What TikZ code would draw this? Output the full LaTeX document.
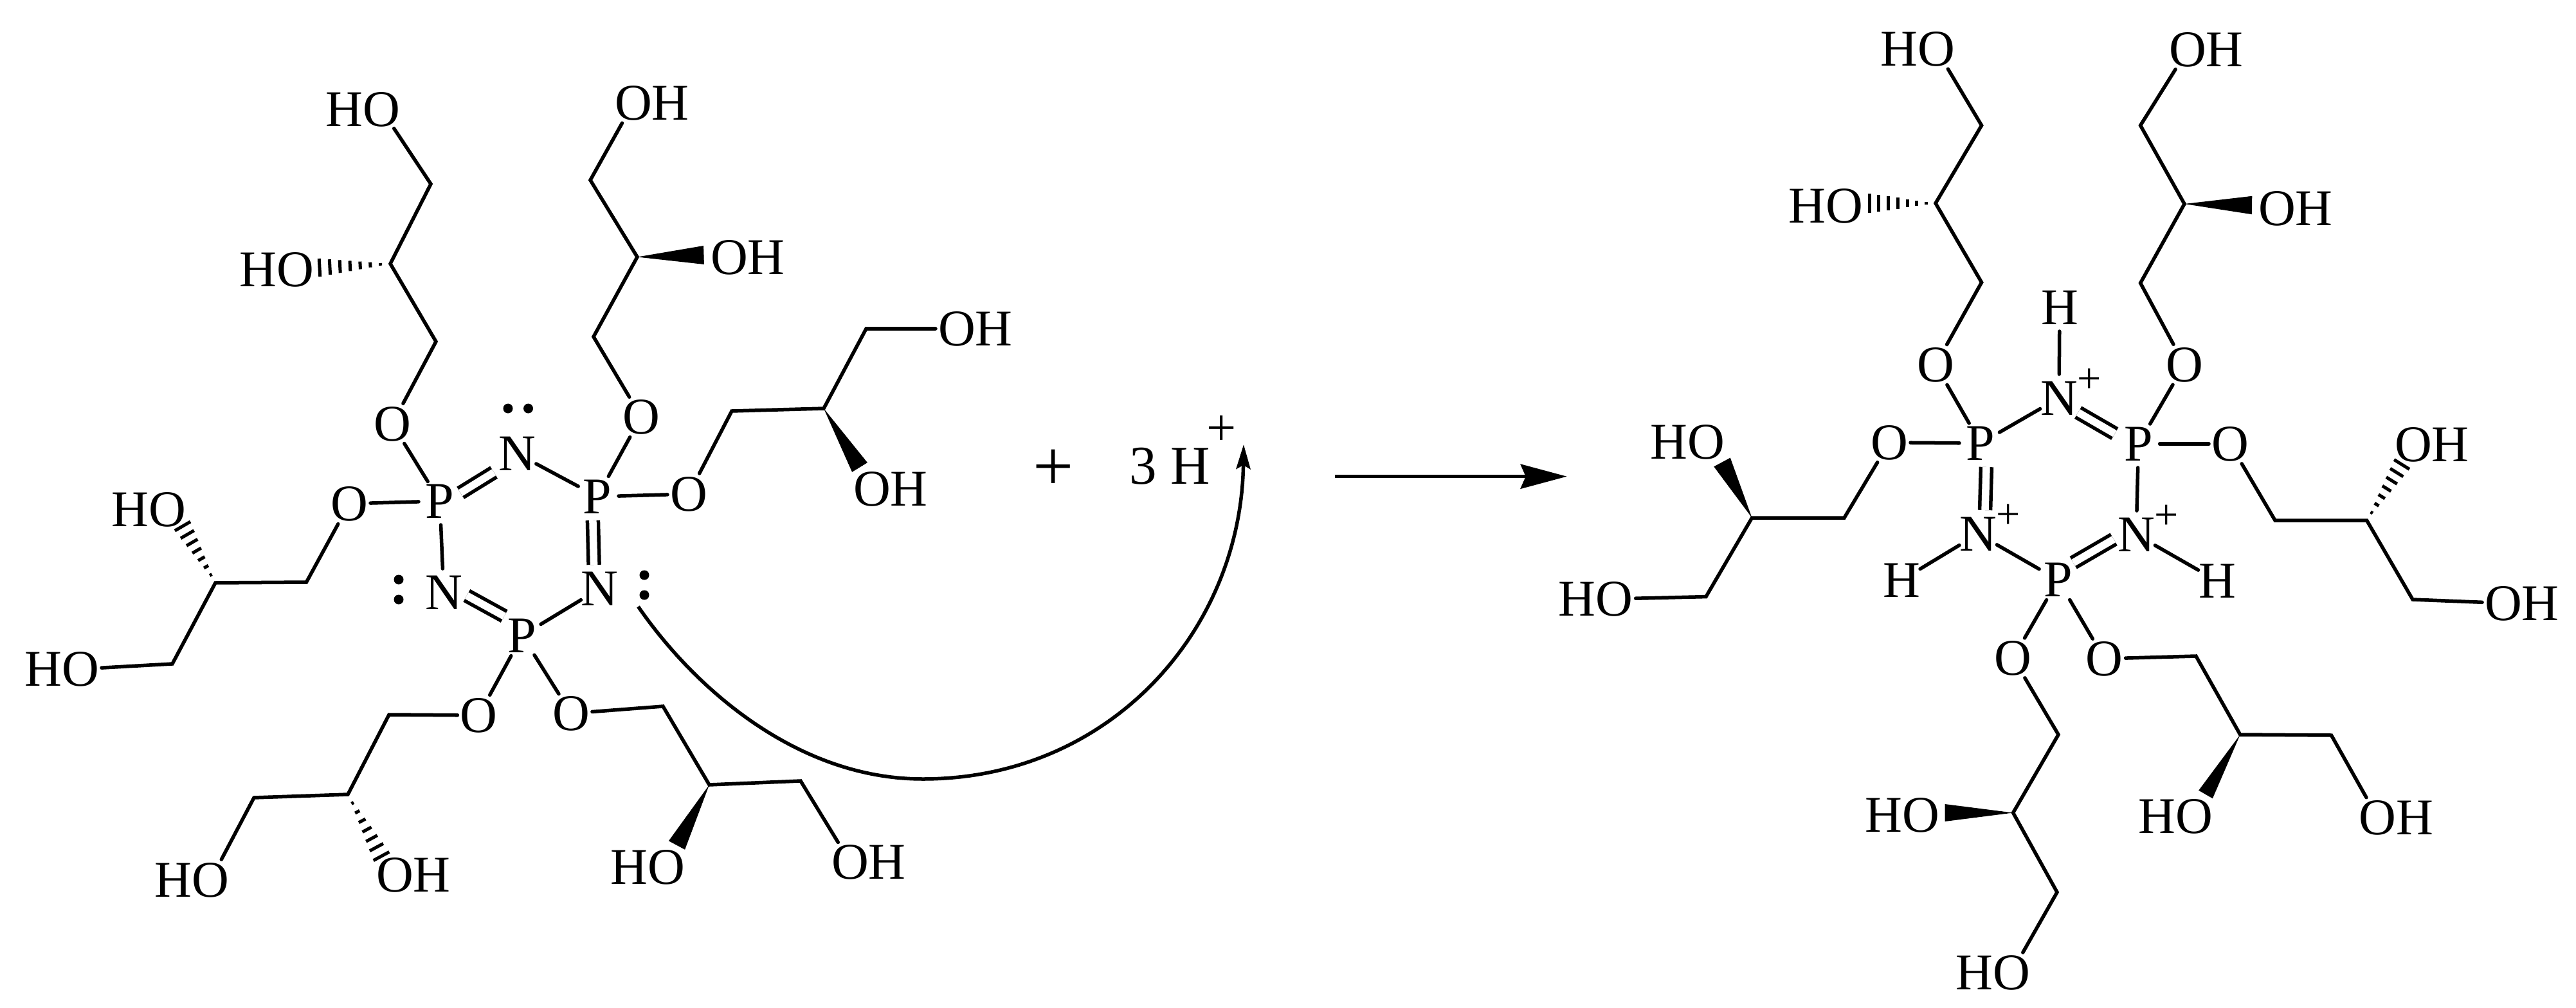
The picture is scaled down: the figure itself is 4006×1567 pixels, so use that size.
\documentclass[tikz,border=0pt]{standalone}
\usepackage{fontspec}
\setmainfont{Liberation Serif}
\usetikzlibrary{shapes.geometric,calc,arrows.meta}
\newcommand\atm[1]{\makebox[0pt]{\raisebox{-0.331em}[0pt][0pt]{#1}}}
\newcommand\plusN{\rlap{\raisebox{0.346cm}[0pt][0pt]{\fontsize{18.8pt}{20pt}\selectfont +}}}
\newcommand\wdg[3]{\fill (#1) -- ($(#2)!#3!90:(#1)$) -- ($(#2)!#3!-90:(#1)$) -- cycle;}
\newcommand\hsh[3]{\foreach \t in {0.14,0.283,0.426,0.569,0.712,0.855,1.0}{%
  \draw[hashline] ($(#1)!\t!(#2)!\t*#3!90:(#1)$) -- ($(#1)!\t!(#2)!\t*#3!-90:(#1)$);}}
\tikzset{
  atom/.style={ellipse,inner sep=0pt,outer sep=0pt,minimum width=0.66cm,minimum height=0.74cm,
    font=\fontsize{22.76pt}{26pt}\selectfont},
  bond/.style={line width=0.055cm,line cap=round,line join=miter},
  dbl/.style={line width=0.055cm,line cap=butt,double,double distance=0.115cm},
  hashline/.style={line width=0.05cm},
  dot/.style={fill=black},
}
\begin{document}
\begin{tikzpicture}[x=0.01cm,y=-0.01cm]
\useasboundingbox (0,0) rectangle (4006,1567);
% ---------- left molecule ----------
\node[atom] (lP1) at (684,779) {\atm{P}};
\node[atom] (lP2) at (929,772) {\atm{P}};
\node[atom] (lP3) at (812,988) {\atm{P}};
\node[atom] (lN1) at (804,705) {\atm{N}};
\node[atom] (lN2) at (932.5,915) {\atm{N}};
\node[atom] (lN3) at (690,921) {\atm{N}};
\node[atom] (lO1) at (610,659) {\atm{O}};
\node[atom] (lO2) at (997,648) {\atm{O}};
\node[atom] (lO3) at (1071,768) {\atm{O}};
\node[atom] (lO4) at (543,783) {\atm{O}};
\node[atom] (lO5) at (744.5,1112) {\atm{O}};
\node[atom] (lO6) at (888,1109) {\atm{O}};
\node[atom] (lA1) at (593,170) {\atm{\llap{H}O}};
\node[atom] (lA2) at (459,419) {\atm{\llap{H}O}};
\node[atom] (lB1) at (985,160) {\atm{O\rlap{H}}};
\node[atom] (lB2) at (1134,400) {\atm{O\rlap{H}}};
\node[atom] (lC1) at (1488,511) {\atm{O\rlap{H}}};
\node[atom] (lC2) at (1356,760) {\atm{O\rlap{H}}};
\node[atom] (lD1) at (125,1040) {\atm{\llap{H}O}};
\node[atom] (lD2) at (260,792) {\atm{\llap{H}O}};
\node[atom] (lE1) at (327.5,1368) {\atm{\llap{H}O}};
\node[atom] (lE2) at (614,1360) {\atm{O\rlap{H}}};
\node[atom] (lF1) at (1322,1340) {\atm{O\rlap{H}}};
\node[atom] (lF2) at (1036,1348) {\atm{\llap{H}O}};
% ring
\draw[dbl,transform canvas={shift={(3.2,5.1)}},shorten >=0.12cm] (lP1) -- (lN1);
\draw[bond] (lN1) -- (lP2);
\draw[dbl,transform canvas={shift={(-8,0)}}] (lP2) -- (lN2);
\draw[bond] (lN2) -- (lP3);
\draw[dbl,transform canvas={shift={(6.2,-11.4)}},shorten >=0.05cm] (lN3) -- (lP3);
\draw[bond] (lN3) -- (lP1);
\draw[bond] (lP1) -- (lO1);
\draw[bond] (lP1) -- (lO4);
\draw[bond] (lP2) -- (lO2);
\draw[bond] (lP2) -- (lO3);
\draw[bond] (lP3) -- (lO5);
\draw[bond] (lP3) -- (lO6);
% chains
\coordinate (ca) at (607,410);
\draw[bond] (lO1) -- (678,531) -- (ca) -- (670,286) -- (lA1);
\coordinate (cb) at (991,399.5);
\draw[bond] (lO2) -- (923,523.5) -- (cb) -- (918,280) -- (lB1);
\coordinate (cc) at (1281,635);
\draw[bond] (lO3) -- (1138,639) -- (cc) -- (1347,511) -- (lC1);
\coordinate (cd) at (335,906);
\draw[bond] (lO4) -- (476.5,905) -- (cd) -- (268,1032) -- (lD1);
\coordinate (ce) at (541,1235);
\draw[bond] (lO5) -- (605,1111) -- (ce) -- (395,1240) -- (lE1);
\coordinate (cf) at (1103,1220);
\draw[bond] (lO6) -- (1031,1098) -- (cf) -- (1245,1214) -- (lF1);
% stereo
\coordinate (ha) at (497,416);  \hsh{ca}{ha}{0.14cm}
\coordinate (wb) at (1094.5,396.5); \wdg{cb}{wb}{0.145cm}
\coordinate (wc) at (1337,726.5); \wdg{cc}{wc}{0.14cm}
\coordinate (hd) at (284,818);  \hsh{cd}{hd}{0.14cm}
\coordinate (he) at (593,1331); \hsh{ce}{he}{0.14cm}
\coordinate (wf) at (1052.5,1314); \wdg{cf}{wf}{0.143cm}
% lone pairs
\fill[dot] (790,635) circle [radius=0.075cm];
\fill[dot] (821.5,635) circle [radius=0.075cm];
\fill[dot] (620,901) circle [radius=0.075cm];
\fill[dot] (620,932) circle [radius=0.075cm];
\fill[dot] (1002,894) circle [radius=0.075cm];
\fill[dot] (1002,925) circle [radius=0.075cm];
% plus and proton
\node[inner sep=0pt,font=\fontsize{31.9pt}{34pt}\selectfont] (plus) at (1638.6,731) {+};
\node[inner sep=0pt,font=\fontsize{24.2pt}{28pt}\selectfont] (prot) at (1819,724.5)
  {3 H\rlap{\kern-0.05cm\raisebox{0.6cm}[0pt][0pt]{\fontsize{23.3pt}{26pt}\selectfont +}}};
% curved arrow
\coordinate (startc) at (992.5,943);
\coordinate (bottomc) at (1435,1211);
\coordinate (tipc) at (1934,691);
\draw[line width=0.055cm,-{Stealth[length=0.38cm,width=0.22cm,inset=0.06cm]}]
  (startc) .. controls (1080,1070) and (1240,1211) .. (bottomc)
  .. controls (1725,1211) and (1930,981) .. (tipc);
% main arrow
\coordinate (ma) at (2076,740.7);
\coordinate (mb) at (2436.7,740.7);
\draw[line width=0.055cm,-{Stealth[length=0.72cm,width=0.38cm,inset=0.08cm]}] (ma) -- (mb);
% ---------- right molecule ----------
\node[atom] (rP1) at (3080,689) {\atm{P}};
\node[atom] (rP2) at (3325.6,690) {\atm{P}};
\node[atom] (rP3) at (3200.5,901.5) {\atm{P}};
\node[atom] (rN1) at (3202,618.6) {\atm{N\plusN}};
\node[atom] (rN2) at (3322,831) {\atm{N\plusN}};
\node[atom] (rN3) at (3076,830) {\atm{N\plusN}};
\node[atom] (rH1) at (3203,478) {\atm{H}};
\node[atom] (rH2) at (3448,903) {\atm{H}};
\node[atom] (rH3) at (2957,902) {\atm{H}};
\node[atom] (rO1) at (3010,567) {\atm{O}};
\node[atom] (rO2) at (3397,567) {\atm{O}};
\node[atom] (rO3) at (2938,688) {\atm{O}};
\node[atom] (rO4) at (3468,690) {\atm{O}};
\node[atom] (rO5) at (3130.6,1023) {\atm{O}};
\node[atom] (rO6) at (3272.5,1024) {\atm{O}};
\node[atom] (rA1) at (3011,76.5) {\atm{\llap{H}O}};
\node[atom] (rA2) at (2868,320) {\atm{\llap{H}O}};
\node[atom] (rB1) at (3402,77.5) {\atm{O\rlap{H}}};
\node[atom] (rB2) at (3541,324) {\atm{O\rlap{H}}};
\node[atom] (rC1) at (2510.6,931) {\atm{\llap{H}O}};
\node[atom] (rC2) at (2653.5,687) {\atm{\llap{H}O}};
\node[atom] (rD1) at (3893,937.6) {\atm{O\rlap{H}}};
\node[atom] (rD2) at (3753,691) {\atm{O\rlap{H}}};
\node[atom] (rE1) at (3128,1512) {\atm{\llap{H}O}};
\node[atom] (rE2) at (2987,1267) {\atm{\llap{H}O}};
\node[atom] (rF1) at (3697.5,1271) {\atm{O\rlap{H}}};
\node[atom] (rF2) at (3412,1269) {\atm{\llap{H}O}};
% ring
\draw[bond] (rP1) -- (rN1);
\draw[dbl,transform canvas={shift={(-2.3,4.1)}},shorten <=0.03cm,shorten >=0.06cm] (rN1) -- (rP2);
\draw[bond] (rP2) -- (rN2);
\draw[dbl,transform canvas={shift={(-5.6,-9.7)}}] (rP3) -- (rN2);
\draw[bond] (rP3) -- (rN3);
\draw[dbl,transform canvas={shift={(10,0)}}] (rP1) -- (rN3);
\draw[bond] (rN1) -- (rH1);
\draw[bond] (rN2) -- (rH2);
\draw[bond] (rN3) -- (rH3);
\draw[bond] (rP1) -- (rO1);
\draw[bond] (rP1) -- (rO3);
\draw[bond] (rP2) -- (rO2);
\draw[bond] (rP2) -- (rO4);
\draw[bond] (rP3) -- (rO5);
\draw[bond] (rP3) -- (rO6);
% chains
\coordinate (ra) at (3010,316);
\draw[bond] (rO1) -- (3081.6,439) -- (ra) -- (3081.6,195) -- (rA1);
\coordinate (rb) at (3397,317);
\draw[bond] (rO2) -- (3328.6,440) -- (rb) -- (3328.6,195) -- (rB1);
\coordinate (rc) at (2724.5,805);
\draw[bond] (rO3) -- (2868,805) -- (rc) -- (2653,927.6) -- (rC1);
\coordinate (rd) at (3680.6,809);
\draw[bond] (rO4) -- (3538,809) -- (rd) -- (3752,932) -- (rD1);
\coordinate (re) at (3130.6,1263.5);
\draw[bond] (rO5) -- (3201,1142) -- (re) -- (3199,1387) -- (rE1);
\coordinate (rf) at (3483.7,1142);
\draw[bond] (rO6) -- (3415,1020) -- (rf) -- (3625.5,1143) -- (rF1);
% stereo
\coordinate (rha) at (2907,316); \hsh{ra}{rha}{0.15cm}
\coordinate (rwb) at (3502,319); \wdg{rb}{rwb}{0.142cm}
\coordinate (rwc) at (2678,718.5); \wdg{rc}{rwc}{0.145cm}
\coordinate (rhd) at (3735,722); \hsh{rd}{rhd}{0.14cm}
\coordinate (rwe) at (3024.5,1263.5); \wdg{re}{rwe}{0.135cm}
\coordinate (rwf) at (3430,1235); \wdg{rf}{rwf}{0.125cm}
\end{tikzpicture}
\end{document}
